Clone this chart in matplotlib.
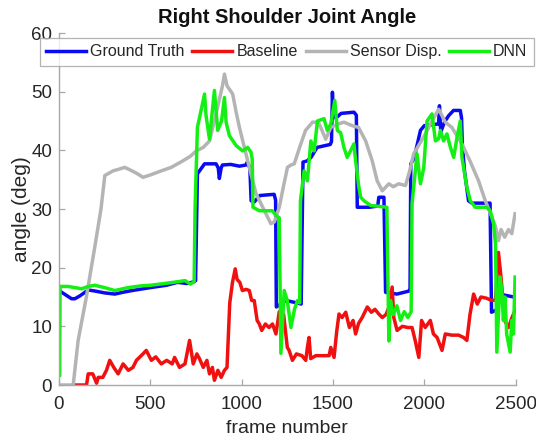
import matplotlib
matplotlib.use("Agg")
import matplotlib.pyplot as plt

plt.rcParams['font.family'] = ['Liberation Sans', 'DejaVu Sans']

title = "Right Shoulder Joint Angle"
xlabel = "frame number"
ylabel = "angle (deg)"
series_names = ["Ground Truth", "Baseline", "Sensor Disp.", "DNN"]
xticks = [0, 500, 1000, 1500, 2000, 2500]
yticks = [0, 10, 20, 30, 40, 50, 60]

gt_f = [0, 30, 69, 87, 115, 160, 200, 250, 306, 349, 400, 440, 500, 588, 649, 700, 740, 748, 758, 797, 860, 872, 878, 888, 895, 940, 988, 1024, 1031, 1045, 1052, 1069, 1100, 1178, 1186, 1190, 1242, 1288, 1326, 1336, 1359, 1380, 1413, 1485, 1492, 1497, 1503, 1520, 1545, 1615, 1628, 1633, 1700, 1745, 1751, 1779, 1788, 1850, 1915, 1922, 1926, 1942, 1960, 1979, 2000, 2050, 2078, 2083, 2090, 2110, 2133, 2160, 2197, 2204, 2208, 2220, 2242, 2260, 2360, 2368, 2395, 2410, 2490]
gt_v = [16.1, 15.5, 14.7, 14.7, 15.2, 16.2, 16.0, 15.7, 15.5, 15.8, 16.1, 16.3, 16.6, 17.0, 17.5, 17.3, 17.6, 17.8, 36.0, 37.7, 37.7, 37.0, 35.2, 37.0, 37.5, 37.6, 37.3, 37.5, 38.0, 37.0, 31.4, 31.2, 32.3, 32.5, 31.5, 13.3, 14.4, 14.1, 13.8, 38.0, 38.2, 38.8, 40.5, 41.0, 41.5, 49.9, 45.6, 45.6, 46.3, 46.5, 46.0, 30.3, 30.3, 30.5, 32.0, 32.0, 15.8, 15.5, 16.0, 16.4, 37.7, 38.5, 40.8, 43.4, 44.2, 44.4, 44.5, 47.6, 43.1, 44.8, 45.9, 46.8, 46.8, 45.5, 41.1, 36.5, 31.4, 31.0, 31.0, 12.4, 12.8, 15.5, 15.0]

base_f = [80, 151, 160, 185, 206, 215, 240, 260, 278, 300, 324, 351, 380, 405, 424, 460, 478, 506, 530, 560, 590, 620, 633, 660, 690, 715, 735, 755, 769, 790, 810, 824, 840, 851, 870, 888, 906, 920, 935, 950, 965, 975, 990, 1004, 1025, 1042, 1055, 1069, 1085, 1097, 1110, 1130, 1150, 1169, 1188, 1206, 1230, 1250, 1260, 1278, 1300, 1330, 1351, 1360, 1369, 1378, 1406, 1479, 1488, 1506, 1520, 1533, 1550, 1570, 1590, 1610, 1624, 1640, 1660, 1688, 1710, 1730, 1751, 1770, 1790, 1810, 1824, 1833, 1851, 1880, 1910, 1933, 1950, 1970, 1985, 2005, 2033, 2050, 2070, 2097, 2115, 2150, 2188, 2215, 2233, 2250, 2270, 2290, 2310, 2340, 2370, 2390, 2406, 2420, 2440, 2461, 2480, 2497]
base_v = [0.0, 0.0, 1.9, 1.9, 0.3, 1.3, 1.3, 2.5, 4.2, 3.0, 1.9, 3.6, 2.5, 3.0, 4.2, 5.3, 5.9, 4.2, 4.8, 3.6, 4.2, 3.6, 4.7, 3.0, 3.6, 7.6, 3.6, 5.3, 4.5, 3.0, 4.2, 1.9, 3.0, 0.8, 2.5, 1.3, 2.5, 3.0, 14.0, 17.5, 19.8, 18.0, 17.5, 16.1, 16.3, 16.1, 14.4, 14.4, 11.0, 10.4, 9.3, 10.4, 9.8, 10.4, 8.7, 12.5, 12.0, 6.4, 5.9, 4.2, 5.3, 5.0, 4.2, 6.4, 8.1, 4.5, 5.0, 5.0, 6.4, 4.7, 9.0, 12.1, 11.5, 12.4, 9.8, 11.0, 8.7, 10.5, 11.5, 13.3, 12.4, 12.9, 12.1, 11.5, 12.0, 13.5, 16.7, 11.5, 9.3, 10.0, 9.8, 9.8, 7.6, 4.7, 11.0, 9.8, 11.0, 8.7, 8.1, 5.9, 8.7, 8.5, 8.5, 8.1, 7.6, 12.0, 15.5, 13.8, 15.0, 14.8, 14.4, 14.5, 22.6, 18.4, 11.0, 9.8, 11.5, 12.7]

sens_f = [0, 78, 105, 150, 196, 230, 251, 296, 330, 360, 400, 430, 460, 500, 560, 615, 678, 720, 751, 790, 824, 860, 895, 906, 920, 951, 970, 988, 1015, 1042, 1079, 1133, 1160, 1179, 1206, 1230, 1251, 1270, 1288, 1324, 1350, 1388, 1420, 1440, 1460, 1488, 1530, 1560, 1606, 1640, 1679, 1715, 1742, 1770, 1806, 1830, 1860, 1897, 1920, 1942, 2006, 2042, 2079, 2115, 2151, 2206, 2250, 2297, 2334, 2370, 2390, 2406, 2420, 2440, 2461, 2479, 2497]
sens_v = [0.0, 0.0, 7.6, 15.0, 23.5, 30.0, 35.7, 36.5, 36.8, 37.1, 36.5, 36.0, 35.4, 35.8, 36.5, 37.1, 38.2, 39.0, 39.9, 40.5, 41.6, 46.2, 51.0, 53.0, 51.0, 49.6, 46.5, 43.9, 40.5, 37.1, 32.6, 29.2, 27.5, 27.8, 30.3, 34.0, 37.1, 37.5, 37.7, 41.1, 43.4, 44.8, 44.8, 43.4, 41.9, 43.9, 44.5, 44.8, 44.2, 43.9, 41.6, 38.2, 34.8, 33.1, 34.3, 33.8, 34.3, 34.0, 36.5, 39.4, 42.8, 45.0, 47.0, 44.8, 43.9, 41.1, 38.2, 34.8, 31.4, 28.6, 27.0, 24.6, 26.5, 25.2, 26.5, 25.8, 29.2]

dnn_f = [0, 4, 6, 50, 87, 124, 160, 196, 250, 306, 378, 450, 500, 578, 649, 690, 720, 740, 745, 758, 797, 805, 824, 851, 869, 890, 906, 915, 933, 970, 1006, 1033, 1051, 1058, 1062, 1097, 1168, 1188, 1206, 1215, 1233, 1250, 1270, 1290, 1306, 1318, 1322, 1342, 1360, 1379, 1397, 1415, 1451, 1469, 1488, 1510, 1524, 1542, 1560, 1578, 1615, 1624, 1642, 1652, 1670, 1706, 1795, 1806, 1815, 1830, 1850, 1870, 1890, 1910, 1928, 1933, 1960, 1979, 1997, 2015, 2042, 2061, 2079, 2088, 2106, 2124, 2143, 2161, 2179, 2197, 2206, 2224, 2233, 2252, 2279, 2342, 2361, 2379, 2390, 2397, 2415, 2424, 2433, 2442, 2451, 2470, 2479, 2488, 2497]
dnn_v = [1.6, 1.6, 16.8, 16.8, 16.6, 16.4, 16.8, 17.0, 16.6, 16.1, 16.6, 16.9, 17.0, 17.3, 17.6, 17.8, 17.2, 17.6, 30.0, 43.9, 49.6, 46.0, 41.9, 50.2, 43.4, 45.0, 49.0, 44.8, 42.5, 40.8, 39.9, 40.5, 39.7, 38.5, 30.3, 29.7, 29.7, 28.9, 28.5, 5.4, 16.1, 14.4, 9.8, 13.0, 14.4, 14.0, 31.4, 36.5, 34.8, 41.6, 39.9, 45.0, 45.4, 43.4, 44.5, 48.5, 43.4, 43.0, 40.5, 38.8, 41.1, 38.2, 33.7, 32.0, 31.4, 30.6, 30.3, 7.5, 14.4, 12.0, 13.5, 11.0, 12.5, 11.5, 12.5, 30.9, 39.4, 34.3, 37.0, 45.0, 46.2, 41.6, 42.0, 43.4, 41.6, 42.8, 40.5, 38.8, 42.2, 45.0, 38.8, 35.4, 33.7, 31.4, 30.3, 30.3, 29.7, 27.5, 24.0, 5.6, 18.4, 16.1, 11.0, 15.0, 8.7, 5.6, 11.0, 8.7, 18.4]

colors = ["#0a0af0", "#f01010", "#b4b4b4", "#14f014"]

fig = plt.figure(figsize=(5.36, 4.40), dpi=100)
ax = fig.add_axes([0.110, 0.125, 0.852, 0.800])

lw = 2.5
ax.plot(gt_f, gt_v, color=colors[0], lw=lw, label=series_names[0])
ax.plot(base_f, base_v, color=colors[1], lw=lw, label=series_names[1])
ax.plot(sens_f, sens_v, color=colors[2], lw=lw, label=series_names[2])
ax.plot(dnn_f, dnn_v, color=colors[3], lw=lw, label=series_names[3])

ax.set_xlim(0, 2500)
ax.set_ylim(0, 60)
ax.set_xticks(xticks)
ax.set_yticks(yticks)
for s in ["top", "right"]:
    ax.spines[s].set_visible(False)
for s in ["left", "bottom"]:
    ax.spines[s].set_color("#a8a8a8")
    ax.spines[s].set_linewidth(1.0)
ax.tick_params(direction="in", length=4, width=0.9, color="#a8a8a8",
               labelsize=13.5, labelcolor="#262626")
ax.tick_params(axis="x", pad=8)
ax.tick_params(axis="y", pad=5)

ax.set_xlabel(xlabel, fontsize=14, color="#262626", labelpad=5)
ax.set_ylabel(ylabel, fontsize=15, color="#262626", labelpad=0)
ax.set_title(title, fontsize=14.5, fontweight="bold", color="#111111", pad=7)

leg = fig.legend(loc="upper left", bbox_to_anchor=(0.074, 0.914), ncol=4,
                 fontsize=11.5, handlelength=2.5, handletextpad=0.25,
                 columnspacing=0.5, borderpad=0.4, borderaxespad=0.0,
                 frameon=True, fancybox=False)
leg.get_frame().set_edgecolor("#a0a0a0")
leg.get_frame().set_linewidth(0.9)
for t in leg.get_texts():
    t.set_color("#262626")

fig.savefig("out.png", dpi=100)
